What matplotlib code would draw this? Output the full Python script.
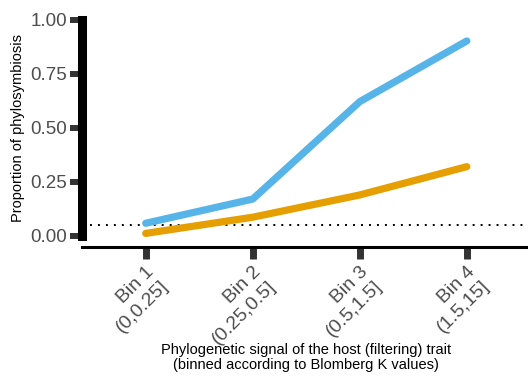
import matplotlib
matplotlib.use("Agg")
import matplotlib.pyplot as plt

plt.rcParams['font.family'] = ['Liberation Sans', 'DejaVu Sans']

# ---- data ----
bins = ["Bin 1\n(0,0.25]", "Bin 2\n(0.25,0.5]", "Bin 3\n(0.5,1.5]", "Bin 4\n(1.5,15]"]
blue_vals = [0.059, 0.171, 0.622, 0.903]
orange_vals = [0.012, 0.087, 0.190, 0.321]
threshold = 0.05
yticks = [0.0, 0.25, 0.5, 0.75, 1.0]
ytick_labels = ["0.00", "0.25", "0.50", "0.75", "1.00"]
xlabel = "Phylogenetic signal of the host (filtering) trait\n(binned according to Blomberg K values)"
ylabel = "Proportion of phylosymbiosis"

W, H = 528, 379
fig = plt.figure(figsize=(W / 100, H / 100), dpi=100)
left_px, right_px, top_px, bot_px = 81.5, 531.0, 9.2, 246.8
ax = fig.add_axes([left_px / W, 1 - bot_px / H, (right_px - left_px) / W, (bot_px - top_px) / H])

x = list(range(1, len(bins) + 1))
ax.axhline(threshold, color='black', lw=1.4, linestyle=(0, (1, 3.1)), zorder=1)
ax.plot(x, orange_vals, color='#E69F00', lw=5.2, solid_capstyle='round', solid_joinstyle='round', zorder=3)
ax.plot(x, blue_vals, color='#56B4E9', lw=5.2, solid_capstyle='round', solid_joinstyle='round', zorder=3)

ax.set_xlim(0.4, 4.6)
ax.set_ylim(-0.05, 1.05)

for s in ['top', 'right']:
    ax.spines[s].set_visible(False)
ax.spines['left'].set_linewidth(6.5)
ax.spines['left'].set_color('black')
ax.spines['left'].set_bounds(0, 1)
ax.spines['left'].set_capstyle('projecting')
ax.spines['bottom'].set_linewidth(2.2)
ax.spines['bottom'].set_color('black')

ax.set_yticks(yticks)
ax.set_yticklabels(ytick_labels)
ax.set_xticks(x)
ax.set_xticklabels(bins, rotation=45, ha='right', va='top', rotation_mode='anchor',
                   multialignment='right', linespacing=1.2)

ax.tick_params(axis='y', direction='out', length=8.3, width=4.3, color='#333333',
               labelsize=13.5, labelcolor='#4D4D4D', pad=2.0)
ax.tick_params(axis='x', direction='out', length=8.6, width=5.0, color='#333333',
               labelsize=14, labelcolor='#4D4D4D', pad=3.5)

ax.set_xlabel(xlabel, fontsize=10.5, color='black', linespacing=1.1)
ax.xaxis.set_label_coords(0.5, -0.405)
ax.set_ylabel(ylabel, fontsize=10.5, color='black')
ax.yaxis.set_label_coords(-0.125, 0.5)

fig.savefig("out.png", dpi=100)
